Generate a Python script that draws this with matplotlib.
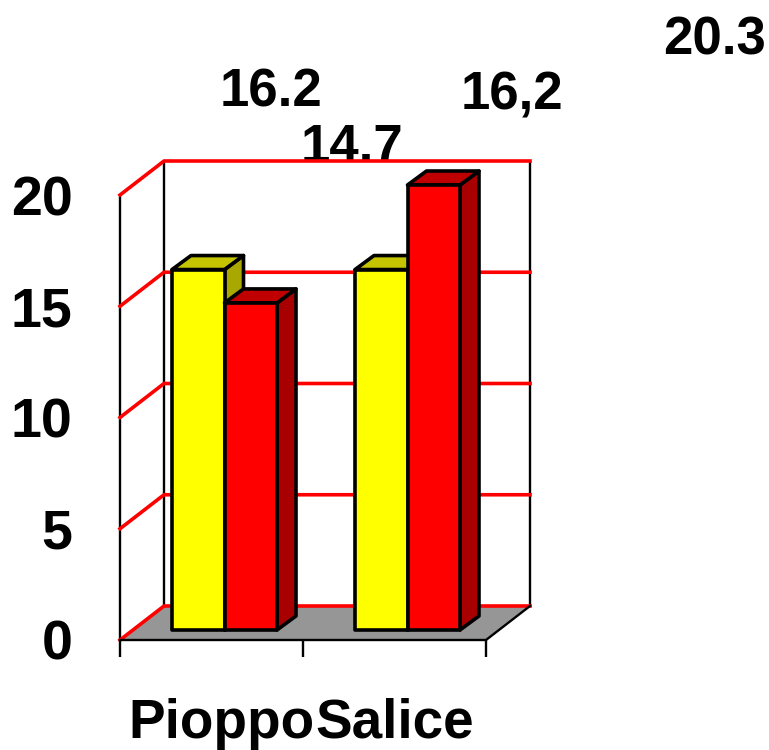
import matplotlib
matplotlib.use("Agg")
import matplotlib.pyplot as plt
from matplotlib.patches import Polygon

plt.rcParams['font.family'] = ['Liberation Sans', 'DejaVu Sans']

categories = ["Pioppo", "Salice"]
series_yellow = [16.2, 16.2]
series_red = [14.7, 20.3]
label_yellow = ["16.2", "16.2"]
label_red = ["14.7", "16,2"]
label_extra = "20.3"
y_ticks = [0, 5, 10, 15, 20]

# layout (pixels)
W, H = 769, 750
Y0 = 640.0; PX_PER_UNIT = 22.25; YMAX = 20
XL, XR = 120, 486
WALL_DX, WALL_DY = 44, 34
BAR_DX, BAR_DY = 19, 14
BASE_PY = 630
BAR_W = 52.5
GROUP_LEFT = [172, 355]
C_YEL = ("#FFFF00", "#C4C400", "#A8A800")
C_RED = ("#FF0000", "#C00000", "#A80000")

fig = plt.figure(figsize=(W / 100, H / 100), dpi=100)
ax = fig.add_axes([0, 0, 1, 1])
ax.set_xlim(0, W)
ax.set_ylim((Y0 - H) / PX_PER_UNIT, Y0 / PX_PER_UNIT)
ax.axis("off")

def py(p):
    return (Y0 - p) / PX_PER_UNIT

d = WALL_DY / PX_PER_UNIT
floor = Polygon([(XL, 0), (XL + WALL_DX, d), (XR + WALL_DX, d), (XR, 0)],
                closed=True, fc="#969696", ec="none", zorder=1)
ax.add_patch(floor)

# walls
ax.plot([XL, XL], [0, YMAX], color="black", lw=1.7, zorder=2, solid_capstyle="butt")
ax.plot([XL + WALL_DX] * 2, [d, YMAX + d], color="black", lw=1.7, zorder=2, solid_capstyle="butt")
ax.plot([XR + WALL_DX] * 2, [d, YMAX + d], color="black", lw=1.7, zorder=2, solid_capstyle="butt")
for t in y_ticks:
    ax.plot([XL, XL + WALL_DX, XR + WALL_DX], [t, t + d, t + d], color="#FF0000", lw=2.6, zorder=3,
            solid_joinstyle="miter")
    ax.text(72.5, py(Y0 - t * PX_PER_UNIT + 20), str(t), ha="right", va="baseline", fontsize=40,
            fontweight="bold", color="black", zorder=8)

# floor front edges and category ticks
ax.plot([XL, XR, XR + WALL_DX], [0, 0, d], color="black", lw=1.7, zorder=4)
for x in (XL, (XL + XR) / 2, XR):
    ax.plot([x, x], [0, py(657)], color="black", lw=1.7, zorder=4, solid_capstyle="butt")

def bar3d(x, value, colors, z):
    base = py(BASE_PY)
    top = base + min(value, YMAX) * 1.0
    dx, dy = BAR_DX, BAR_DY / PX_PER_UNIT
    kw = dict(closed=True, ec="black", lw=2.6, joinstyle="round", zorder=z)
    ax.add_patch(Polygon([(x + BAR_W, base), (x + BAR_W + dx, base + dy), (x + BAR_W + dx, top + dy), (x + BAR_W, top)],
                         fc=colors[2], **kw))
    ax.add_patch(Polygon([(x, top), (x + dx, top + dy), (x + BAR_W + dx, top + dy), (x + BAR_W, top)],
                         fc=colors[1], **kw))
    ax.add_patch(Polygon([(x, base), (x + BAR_W, base), (x + BAR_W, top), (x, top)],
                         fc=colors[0], **kw))

z = 5
for left, yv, rv in zip(GROUP_LEFT, series_yellow, series_red):
    bar3d(left, yv, C_YEL, z)
    bar3d(left + BAR_W, rv, C_RED, z + 0.1)
    z += 0.2

# data labels
label_pos = [(271, 106, label_yellow[0]), (351.5, 161.5, label_red[0]),
             (512, 109, label_red[1]), (714.5, 54, label_extra)]
for x, p, s in label_pos:
    ax.text(x, py(p), s, ha="center", va="baseline", fontsize=38, fontweight="bold", color="black",
            zorder=2.5)

# category labels
ax.text(221, py(738), categories[0], ha="center", va="baseline", fontsize=39.5, fontweight="bold")
ax.text(395, py(738), categories[1], ha="center", va="baseline", fontsize=39.5, fontweight="bold")

fig.savefig("out.png", dpi=100)
